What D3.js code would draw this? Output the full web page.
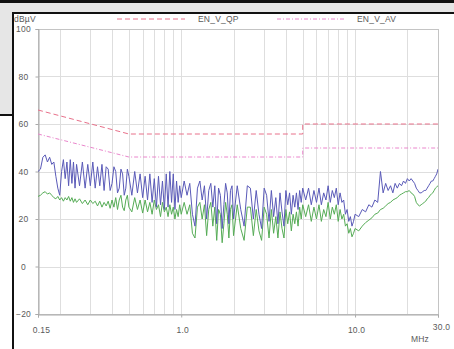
<!DOCTYPE html>
<html>
<head>
<meta charset="utf-8">
<script src="https://cdn.jsdelivr.net/npm/d3@7"></script>
<style>
  body { margin: 0; background: #fff; overflow: hidden; }
  svg text { font-family: "Liberation Sans", Arial, sans-serif; font-size: 8.5px; fill: #5a5a5a; letter-spacing: 0.2px; }
</style>
</head>
<body>
<div id="chart"></div>
<script>
// sweep frequencies (MHz)
const freqMHz = [
  0.150, 0.155, 0.160, 0.165, 0.170, 0.175, 0.180, 0.185, 0.190, 0.195, 0.200, 0.205, 0.210, 0.215, 0.220, 0.225, 0.230, 0.235, 0.240, 0.245, 0.250,
  0.26, 0.27, 0.28, 0.29, 0.30, 0.31, 0.32, 0.33, 0.34, 0.35, 0.36, 0.37, 0.38, 0.39, 0.40, 0.41, 0.42, 0.43, 0.44, 0.45, 0.46, 0.47, 0.48, 0.49, 0.50,
  0.52, 0.54, 0.56, 0.58, 0.60, 0.62, 0.64, 0.66, 0.68, 0.70, 0.72, 0.74, 0.76, 0.78, 0.80, 0.82, 0.84, 0.86, 0.88, 0.90, 0.92, 0.94, 0.96, 0.98, 1.00,
  1.04, 1.08, 1.12, 1.16, 1.20, 1.24, 1.28, 1.32, 1.36, 1.40, 1.44, 1.48, 1.52, 1.56, 1.60, 1.64, 1.68, 1.72, 1.76, 1.80, 1.84, 1.88, 1.92, 1.96, 2.00,
  2.1, 2.2, 2.3, 2.4, 2.5, 2.6, 2.7, 2.8, 2.9, 3.0, 3.1, 3.2, 3.3, 3.4, 3.5, 3.6, 3.7, 3.8, 3.9, 4.0, 4.1, 4.2, 4.3, 4.4, 4.5, 4.6, 4.7, 4.8, 4.9, 5.0,
  5.2, 5.4, 5.6, 5.8, 6.0, 6.2, 6.4, 6.6, 6.8, 7.0, 7.2, 7.4, 7.6, 7.8, 8.0, 8.2, 8.4, 8.6, 8.8, 9.0, 9.2, 9.4, 9.6, 9.8, 10.0,
  10.5, 11, 11.5, 12, 12.5, 13, 13.5, 14, 14.5, 15, 15.5, 16, 16.5, 17, 17.5, 18, 18.5, 19, 19.5, 20,
  20.5, 21, 21.5, 22, 22.5, 23, 23.5, 24, 24.5, 25, 25.5, 26, 26.5, 27, 27.5, 28, 28.5, 29, 29.5, 30
];

// peak trace (blue), dBuV
const peakDb = [
  40, 41, 46, 47, 44, 46, 43, 44, 38, 33, 30, 40, 45, 37, 44, 34, 45, 35, 44, 33, 43,
  34, 44, 33, 43, 34, 44, 33, 42, 34, 43, 32, 42, 41, 32, 35, 42, 40, 31, 33, 41, 39, 30, 33, 41, 38,
  30, 40, 31, 39, 29, 38, 28, 39, 27, 37, 25, 38, 26, 36, 24, 39, 25, 40, 27, 39, 24, 36, 27, 34, 29,
  36, 30, 35, 22, 17, 33, 36, 28, 34, 20, 32, 35, 25, 34, 18, 33, 30, 16, 26, 35, 31, 18, 32, 34, 20,
  34, 24, 17, 34, 33, 20, 32, 22, 16, 33, 30, 19, 32, 21, 29, 18, 31, 23, 17, 32, 26, 31, 22, 30, 25, 31, 24, 32, 27, 33,
  28, 33, 26, 32, 27, 33, 26, 31, 28, 34, 27, 32, 29, 33, 26, 31, 27, 28, 22, 24, 19, 21, 17, 19, 22,
  21, 24, 23, 26, 25, 28, 27, 40, 31, 35, 32, 34, 31, 35, 33, 35, 34, 36, 35, 37,
  36, 37, 36, 35, 33, 32, 31, 31, 31.5, 32, 32, 33, 34, 35, 36, 36, 37, 38, 39, 41
];

// average trace (green), dBuV
const avgDb = [
  29.5, 30, 31, 31.5, 30.5, 31, 30, 29, 28.5, 29.5, 28, 29, 27.5, 29, 28, 29.5, 27.5, 29, 27, 28.5, 27,
  28.5, 26.5, 28, 26, 28, 26.5, 27.5, 25.5, 27.5, 25, 27, 25.5, 27.5, 24.5, 28, 25, 29, 24, 28, 30, 25, 23.5, 28, 30, 25,
  23, 29, 24, 28, 22.5, 28, 23, 27, 22, 28, 24, 26, 21, 27, 23, 25, 21, 26, 22, 25, 20, 24, 21, 26, 22,
  27, 22, 26, 14, 12, 25, 27, 20, 26, 13, 24, 27, 17, 25, 11, 24, 22, 10, 18, 27, 22, 12, 24, 26, 13,
  26, 16, 11, 25, 25, 13, 24, 15, 11, 25, 22, 12, 24, 14, 21, 12, 23, 16, 12, 24, 18, 23, 15, 22, 18, 23, 17, 25, 20, 26,
  21, 26, 19, 25, 20, 26, 19, 24, 21, 27, 20, 25, 22, 26, 19, 24, 20, 22, 17, 18, 14, 16, 12.5, 14, 16,
  15, 17, 18.5, 19.5, 20.5, 22, 22.5, 24, 24.5, 25.5, 26.5, 27, 28, 28.5, 29, 30, 30.5, 31, 31.5, 31.5,
  32, 31, 30.5, 29.5, 27, 26, 25.5, 26, 26.5, 27, 27.5, 28.5, 29, 30, 30.5, 31, 32, 33, 33.5, 34
];

// EN 55022 class B style limits [MHz, dBuV]
const qpLimit = [[0.15, 66], [0.5, 56], [5, 56], [5, 60], [30, 60]];
const avLimit = [[0.15, 56], [0.5, 46], [5, 46], [5, 50], [30, 50]];

const yTicks = [-20, 0, 20, 40, 60, 80, 100];
const xLabels = [0.15, 1, 10, 30];
const xGrid = [0.2, 0.3, 0.4, 0.5, 0.6, 0.7, 0.8, 0.9, 1, 2, 3, 4, 5, 6, 7, 8, 9, 10, 20];
const legendNames = ['EN_V_QP', 'EN_V_AV'];

const W = 454, H = 349;
const plot = { left: 38, right: 438, top: 29, bottom: 314 };
const qpColor = '#e8708a', avColor = '#ea86cc';

const svg = d3.select('#chart').append('svg')
  .attr('width', W)
  .attr('height', H);

const x = d3.scaleLog().domain([0.15, 30]).range([plot.left, plot.right]);
const y = d3.scaleLinear().domain([-20, 100]).range([plot.bottom, plot.top]);

drawFrame();
drawGrid();
drawAxes();
drawLimits();
drawTraces();
drawLegend();

function drawFrame() {
  // bits of the window behind the chart
  svg.append('rect').attr('x', 0).attr('y', 0).attr('width', W).attr('height', H).attr('fill', '#fff');
  svg.append('rect').attr('x', 0).attr('y', 3).attr('width', W).attr('height', 10).attr('fill', '#e6e6e6');
  svg.append('rect').attr('x', 0).attr('y', 3).attr('width', 13).attr('height', 112).attr('fill', '#e6e6e6');
  svg.append('rect').attr('x', 0).attr('y', 0).attr('width', W).attr('height', 3).attr('fill', '#111');
  svg.append('rect').attr('x', 12).attr('y', 12).attr('width', W - 12).attr('height', 2).attr('fill', '#111');
  svg.append('rect').attr('x', 12).attr('y', 12).attr('width', 2).attr('height', H - 12).attr('fill', '#111');
  svg.append('rect').attr('x', 0).attr('y', 114).attr('width', 13).attr('height', 2).attr('fill', '#111');
}

function drawGrid() {
  const g = svg.append('g').attr('class', 'grid');
  g.selectAll('.vgrid').data(xGrid).enter().append('line')
    .attr('class', 'vgrid')
    .attr('x1', d => Math.round(x(d)) + 0.5).attr('x2', d => Math.round(x(d)) + 0.5)
    .attr('y1', plot.top).attr('y2', plot.bottom)
    .attr('stroke', '#dedede');
  g.selectAll('.hgrid').data(yTicks.slice(1, -1)).enter().append('line')
    .attr('class', 'hgrid')
    .attr('x1', plot.left).attr('x2', plot.right)
    .attr('y1', d => Math.round(y(d)) + 0.5).attr('y2', d => Math.round(y(d)) + 0.5)
    .attr('stroke', '#dedede');
  g.append('rect')
    .attr('x', plot.left + 0.5).attr('y', plot.top + 0.5)
    .attr('width', plot.right - plot.left).attr('height', plot.bottom - plot.top)
    .attr('fill', 'none').attr('stroke', '#c4c4c4');
}

function drawAxes() {
  const yAxis = d3.axisLeft(y).tickValues(yTicks).tickSize(3).tickFormat(d3.format('d'));
  const ya = svg.append('g')
    .attr('transform', 'translate(' + (plot.left + 0.5) + ',0)')
    .call(yAxis);
  ya.select('.domain').attr('stroke', '#aaa');
  ya.selectAll('.tick line').attr('stroke', '#aaa');
  ya.selectAll('.tick text').attr('x', -15).attr('text-anchor', 'middle');

  const xAxis = d3.axisBottom(x).tickValues(xLabels).tickSize(3)
    .tickFormat(d => d === 0.15 ? '0.15' : d3.format('.1f')(d));
  const xa = svg.append('g')
    .attr('transform', 'translate(0,' + (plot.bottom + 0.5) + ')')
    .call(xAxis);
  xa.select('.domain').attr('stroke', '#aaa');
  xa.selectAll('.tick line').attr('stroke', '#aaa');
  xa.selectAll('.tick text').attr('y', d => d === 30 ? 9 : 12)
    .attr('dx', d => d === 30 ? 3 : (d === 0.15 ? 3 : 1));

  svg.append('text').attr('x', 14).attr('y', 22).text('dBµV');
  svg.append('text').attr('x', 420).attr('y', 342).attr('text-anchor', 'middle').text('MHz');
}

function drawLimits() {
  // rounded y keeps the thin dashed limit lines soft, like the scanned original
  const line = d3.line().x(d => x(d[0])).y(d => Math.round(y(d[1])));
  svg.append('path').datum(qpLimit)
    .attr('d', line).attr('fill', 'none')
    .attr('stroke', qpColor).attr('stroke-dasharray', '5,3');
  svg.append('path').datum(avLimit)
    .attr('d', line).attr('fill', 'none')
    .attr('stroke', avColor).attr('stroke-dasharray', '4,2,1,2');
}

function drawTraces() {
  svg.append('clipPath').attr('id', 'clip').append('rect')
    .attr('x', plot.left).attr('y', plot.top)
    .attr('width', plot.right - plot.left).attr('height', plot.bottom - plot.top);
  const line = d3.line().x(d => x(d[0])).y(d => y(d[1]));
  const avg = freqMHz.map((f, i) => [f, avgDb[i]]);
  const peak = freqMHz.map((f, i) => [f, peakDb[i]]);
  svg.append('path').datum(avg)
    .attr('clip-path', 'url(#clip)')
    .attr('d', line).attr('fill', 'none')
    .attr('stroke', '#56ac56').attr('stroke-width', 1);
  svg.append('path').datum(peak)
    .attr('clip-path', 'url(#clip)')
    .attr('d', line).attr('fill', 'none')
    .attr('stroke', '#5a5ab8').attr('stroke-width', 1);
}

function drawLegend() {
  const items = [
    { name: legendNames[0], x0: 117, x1: 185, tx: 198, color: qpColor, dash: '5,3' },
    { name: legendNames[1], x0: 277, x1: 345, tx: 357, color: avColor, dash: '4,2,1,2' }
  ];
  const lg = svg.selectAll('.legend').data(items).enter().append('g').attr('class', 'legend');
  lg.append('line')
    .attr('x1', d => d.x0).attr('x2', d => d.x1)
    .attr('y1', 19).attr('y2', 19)
    .attr('stroke', d => d.color).attr('stroke-dasharray', d => d.dash);
  lg.append('text').attr('x', d => d.tx).attr('y', 22).text(d => d.name);
}
</script>
</body>
</html>
